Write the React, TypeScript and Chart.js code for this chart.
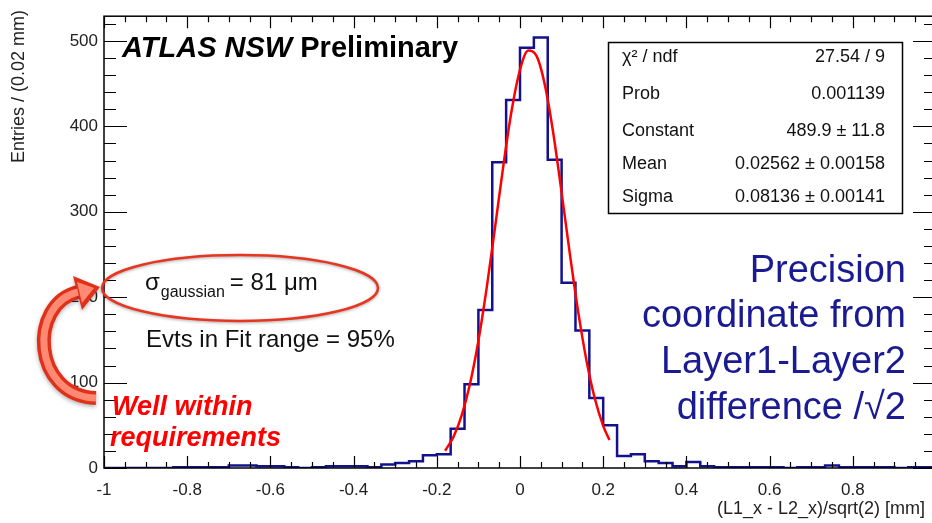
import React, { useEffect, useRef } from 'react';
import { Chart, registerables } from 'chart.js';

Chart.register(...registerables);

// ---- data ----
const X_MIN = -1;
const X_MAX = 1;
const BIN_COUNTS = [
  0, 0, 0, 0, 0, 1, 1, 1, 1, 3,
  3, 2, 2, 1, 0, 1, 2, 2, 2, 1,
  4, 6, 8, 15, 16, 46, 98, 185, 358, 431,
  492, 504, 361, 217, 161, 82, 50, 14, 16, 8,
  6, 2, 7, 2, 1, 1, 1, 1, 1, 0,
  1, 1, 3, 1, 1, 1, 1, 0, 1, 1,
];
const FIT_X = [-0.18, -0.16, -0.14, -0.12, -0.1, -0.08, -0.06, -0.04, -0.02, 0, 0.02, 0.04, 0.06, 0.08, 0.1, 0.12, 0.14, 0.16, 0.18, 0.2, 0.215];
const FIT_Y = [20.2, 36.4, 61.9, 98.9, 149.0, 211.2, 281.8, 354.1, 418.8, 466.3, 488.7, 482.3, 448.0, 391.9, 322.6, 250.1, 182.5, 125.4, 81.1, 49.4, 32.7];
const X_TICKS = [-1, -0.8, -0.6, -0.4, -0.2, 0, 0.2, 0.4, 0.6, 0.8];
const Y_TICKS = [0, 100, 200, 300, 400, 500];
const Y_MAX = 529;
const STATS_LABELS = ['χ² / ndf', 'Prob', 'Constant', 'Mean', 'Sigma'];
const STATS_VALUES = ['27.54 / 9', '0.001139', '489.9 ± 11.8', '0.02562 ± 0.00158', '0.08136 ± 0.00141'];
const NOTE_LINES = ['Precision', 'coordinate from', 'Layer1-Layer2', 'difference /√2'];

const FONT = '"Liberation Sans", Arial, Helvetica, sans-serif';
const HIST_COLOR = '#12128f';
const NAVY = '#1a1a92';

const fmtTick = (v: number) => {
  const r = Math.round(v * 10) / 10;
  return r === 0 ? '0' : String(r);
};

const decorPlugin = {
  id: 'decor',
  afterDatasetsDraw(chart: any) {
    const ctx: CanvasRenderingContext2D = chart.ctx;
    const { left, right, top, bottom } = chart.chartArea;
    const xs = chart.scales.x;
    const ys = chart.scales.y;
    ctx.save();
    // frame
    ctx.strokeStyle = '#000';
    ctx.lineWidth = 1.5;
    ctx.strokeRect(left, top, right - left, bottom - top);
    // ticks
    ctx.lineWidth = 1.2;
    ctx.beginPath();
    for (let k = 0; k <= 40; k++) {
      const v = X_MIN + k * 0.05;
      const px = Math.round(xs.getPixelForValue(v)) + 0.5;
      const len = k % 4 === 0 ? 12 : 6;
      ctx.moveTo(px, bottom);
      ctx.lineTo(px, bottom - len);
      ctx.moveTo(px, top);
      ctx.lineTo(px, top + len);
    }
    for (let v = 0; v <= Y_MAX; v += 20) {
      const py = Math.round(ys.getPixelForValue(v)) + 0.5;
      const len = v % 100 === 0 ? 23 : 12;
      ctx.moveTo(left, py);
      ctx.lineTo(left + len, py);
      ctx.moveTo(right, py);
      ctx.lineTo(right - len, py);
    }
    ctx.stroke();

    // axis titles
    ctx.fillStyle = '#222';
    ctx.font = `18px ${FONT}`;
    ctx.textBaseline = 'middle';
    ctx.textAlign = 'right';
    ctx.fillText('(L1_x - L2_x)/sqrt(2) [mm]', 925, 509);
    ctx.save();
    ctx.translate(19, 10);
    ctx.rotate(-Math.PI / 2);
    ctx.fillText('Entries / (0.02 mm)', 0, 0);
    ctx.restore();

    // title
    ctx.textBaseline = 'alphabetic';
    ctx.textAlign = 'left';
    ctx.fillStyle = '#000';
    ctx.font = `italic bold 29px ${FONT}`;
    ctx.fillText('ATLAS NSW', 122, 57);
    const w1 = ctx.measureText('ATLAS NSW ').width;
    ctx.font = `bold 29px ${FONT}`;
    ctx.fillText('Preliminary', 122 + w1, 57);

    // stats box
    ctx.fillStyle = '#fff';
    ctx.fillRect(608, 42, 294, 171);
    ctx.strokeStyle = '#000';
    ctx.lineWidth = 1.5;
    ctx.strokeRect(608.5, 42.5, 294, 171);
    ctx.fillStyle = '#111';
    ctx.font = `18px ${FONT}`;
    const rowY = [62, 99, 136, 169, 202];
    STATS_LABELS.forEach((lab, i) => {
      ctx.textAlign = 'left';
      ctx.fillText(lab, 622, rowY[i]);
      ctx.textAlign = 'right';
      ctx.fillText(STATS_VALUES[i], 885, rowY[i]);
    });

    // blue note
    ctx.fillStyle = NAVY;
    ctx.font = `38px ${FONT}`;
    ctx.textAlign = 'right';
    const noteY = [282, 327, 373, 419];
    NOTE_LINES.forEach((t, i) => ctx.fillText(t, 906, noteY[i]));

    // sigma text
    ctx.fillStyle = '#111';
    ctx.textAlign = 'left';
    ctx.font = `24px ${FONT}`;
    ctx.fillText('σ', 145, 290);
    let x = 145 + ctx.measureText('σ').width + 1;
    ctx.font = `16px ${FONT}`;
    ctx.fillText('gaussian', x, 297);
    x += ctx.measureText('gaussian').width + 5;
    ctx.font = `24px ${FONT}`;
    ctx.fillText('= 81 μm', x, 290);
    ctx.fillText('Evts in Fit range = 95%', 146, 347);

    // ellipse
    ctx.save();
    ctx.shadowColor = 'rgba(0,0,0,0.35)';
    ctx.shadowBlur = 3;
    ctx.shadowOffsetY = 1;
    ctx.strokeStyle = '#e8351f';
    ctx.lineWidth = 2.5;
    ctx.beginPath();
    ctx.ellipse(240, 288, 138, 33, 0, 0, Math.PI * 2);
    ctx.stroke();
    ctx.restore();

    // red note
    ctx.fillStyle = '#ff0000';
    ctx.font = `italic bold 27px ${FONT}`;
    ctx.fillText('Well within', 112, 415);
    ctx.fillText('requirements', 110, 446);

    // curved arrow
    const arrowPath = () => {
      ctx.beginPath();
      ctx.moveTo(96, 398);
      ctx.bezierCurveTo(32, 396, 28, 304, 78, 292);
    };
    ctx.save();
    ctx.shadowColor = 'rgba(0,0,0,0.3)';
    ctx.shadowBlur = 4;
    ctx.shadowOffsetY = 2;
    ctx.lineCap = 'butt';
    arrowPath();
    ctx.strokeStyle = '#e0301a';
    ctx.lineWidth = 14;
    ctx.stroke();
    ctx.beginPath();
    ctx.moveTo(73, 276);
    ctx.lineTo(100, 287);
    ctx.lineTo(82, 310);
    ctx.closePath();
    ctx.fillStyle = '#e0301a';
    ctx.fill();
    ctx.restore();
    arrowPath();
    ctx.strokeStyle = '#ff8a74';
    ctx.lineWidth = 7;
    ctx.stroke();
    ctx.beginPath();
    ctx.moveTo(77, 282);
    ctx.lineTo(94, 288);
    ctx.lineTo(82, 303);
    ctx.closePath();
    ctx.fillStyle = '#ff8a74';
    ctx.fill();

    ctx.restore();
  },
};

export default function App() {
  const ref = useRef<HTMLCanvasElement>(null);
  useEffect(() => {
    if (!ref.current) return;
    const step = (X_MAX - X_MIN) / BIN_COUNTS.length;
    const histPts = BIN_COUNTS.map((c, i) => ({ x: X_MIN + i * step, y: c }));
    histPts.push({ x: X_MAX, y: BIN_COUNTS[BIN_COUNTS.length - 1] });
    const fitPts = FIT_X.map((x, i) => ({ x, y: FIT_Y[i] }));
    const tickFont = { family: FONT, size: 17 };
    const chart = new Chart(ref.current, {
      type: 'line',
      data: {
        datasets: [
          {
            label: 'hist',
            data: histPts,
            stepped: 'before',
            borderColor: HIST_COLOR,
            borderWidth: 2.5,
            pointRadius: 0,
            fill: false,
            order: 2,
          },
          {
            label: 'fit',
            data: fitPts,
            borderColor: '#ff0000',
            borderWidth: 2.5,
            pointRadius: 0,
            fill: false,
            cubicInterpolationMode: 'monotone',
            order: 1,
          },
        ],
      },
      options: {
        responsive: false,
        animation: false,
        devicePixelRatio: 1,
        layout: { padding: { top: 10, right: 4, left: 0, bottom: 0 } },
        plugins: { legend: { display: false }, tooltip: { enabled: false } },
        scales: {
          x: {
            type: 'linear',
            min: X_MIN,
            max: X_MAX,
            grid: { display: false, drawTicks: false },
            border: { display: false },
            afterBuildTicks: (s: any) => {
              s.ticks = X_TICKS.map((v) => ({ value: v }));
            },
            afterFit: (s: any) => {
              s.height = 55;
            },
            ticks: {
              font: tickFont,
              color: '#222',
              padding: 12,
              maxRotation: 0,
              autoSkip: false,
              callback: (v: any) => fmtTick(Number(v)),
            },
          },
          y: {
            type: 'linear',
            min: 0,
            max: Y_MAX,
            grid: { display: false, drawTicks: false },
            border: { display: false },
            afterBuildTicks: (s: any) => {
              s.ticks = Y_TICKS.map((v) => ({ value: v }));
            },
            afterFit: (s: any) => {
              s.width = 104;
            },
            ticks: {
              font: tickFont,
              color: '#222',
              padding: 6,
              callback: (v: any) => String(v),
            },
          },
        },
      },
      plugins: [decorPlugin],
    } as any);
    return () => chart.destroy();
  }, []);
  return (
    <div style={{ position: 'fixed', left: 0, top: 0, width: 932, height: 523, overflow: 'hidden', background: '#fff' }}>
      <canvas ref={ref} width={940} height={523} style={{ display: 'block' }} />
    </div>
  );
}
